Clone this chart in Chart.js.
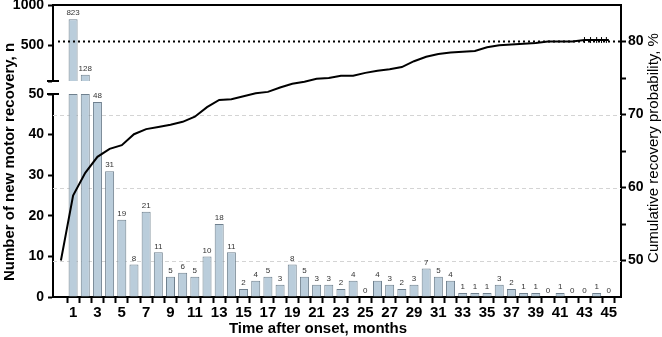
<!DOCTYPE html>
<html><head><meta charset="utf-8">
<script src="https://cdn.jsdelivr.net/npm/chart.js@4.4.1/dist/chart.umd.min.js"></script>
<style>html,body{margin:0;padding:0;background:#fff;}#wrap{width:662px;height:337px;position:relative;}canvas{display:block;}</style>
</head><body><div id="wrap"><canvas id="c" width="662" height="337"></canvas></div>
<script>
// ---- data ----
const months = [1,2,3,4,5,6,7,8,9,10,11,12,13,14,15,16,17,18,19,20,21,22,23,24,25,26,27,28,29,30,31,32,33,34,35,36,37,38,39,40,41,42,43,44,45];
const newRecoveries = [823,128,48,31,19,8,21,11,5,6,5,10,18,11,2,4,5,3,8,5,3,3,2,4,0,4,3,2,3,7,5,4,1,1,1,3,2,1,1,0,1,0,0,1,0];
const cumMonths = [0,1,2,3,4,5,6,7,8,9,10,11,12,13,14,15,16,17,18,19,20,21,22,23,24,25,26,27,28,29,30,31,32,33,34,35,36,37,38,39,40,41,42,43,44,45];
const cumProbability = [50.0,58.9,62.0,64.2,65.3,65.8,67.3,68.0,68.3,68.6,69.0,69.7,71.0,72.0,72.1,72.5,72.9,73.1,73.7,74.2,74.5,74.9,75.0,75.3,75.3,75.7,76.0,76.2,76.5,77.3,77.9,78.3,78.5,78.6,78.7,79.2,79.5,79.6,79.7,79.8,80.0,80.0,80.0,80.2,80.2,80.2];
const censorMonths = [43,43.5,44,44.4,44.8];
const censorValue = 80.2;
const lowTicks = [0,10,20,30,40,50];
const highTicks = [50,500,1000];
const rightTicks = [50,55,60,65,70,75,80];
const gridValues = [50,60,70];
const referenceLevel = 80;
const breakValue = 50;
const xTitle = 'Time after onset, months';
const yLeftTitle = 'Number of new motor recovery, n';
const yRightTitle = 'Cumulative recovery probability, %';

const FONT = "'Liberation Sans', Arial, sans-serif";
const BAR_FILL = '#bacddb';
const BAR_EDGE = '#6f808e';

const lowData = months.map((m, i) => ({x: m, y: Math.min(newRecoveries[i], breakValue)}));
const highData = months.map((m, i) => newRecoveries[i] > breakValue ? {x: m, y: [breakValue, newRecoveries[i]]} : null).filter(Boolean);
const lineData = cumMonths.map((m, i) => ({x: m, y: cumProbability[i]}));
const censorData = censorMonths.map(m => ({x: m, y: censorValue}));

const decor = {
  id: 'decor',
  beforeDatasetsDraw(chart) {
    const {ctx, chartArea: a, scales} = chart;
    ctx.save();
    ctx.strokeStyle = '#d4d4d4';
    ctx.lineWidth = 1;
    ctx.setLineDash([4, 3]);
    gridValues.forEach(v => {
      const y = Math.round(scales.y2.getPixelForValue(v)) + 0.5;
      ctx.beginPath(); ctx.moveTo(a.left, y); ctx.lineTo(a.right, y); ctx.stroke();
    });
    ctx.restore();
  },
  afterDatasetsDraw(chart) {
    const {ctx, chartArea: a, scales} = chart;
    ctx.save();
    const yr = scales.y2.getPixelForValue(referenceLevel);
    ctx.strokeStyle = '#000'; ctx.lineWidth = 2; ctx.setLineDash([2, 3]);
    ctx.beginPath(); ctx.moveTo(a.left + 5, yr); ctx.lineTo(a.right, yr); ctx.stroke();
    ctx.setLineDash([]);
    ctx.lineWidth = 2;
    ctx.beginPath(); ctx.moveTo(a.left - 1, a.top); ctx.lineTo(a.right + 1, a.top); ctx.stroke();
    const xl = scales.yLow.right;
    [scales.yHigh.getPixelForValue(breakValue), scales.yLow.getPixelForValue(breakValue)].forEach(y => {
      ctx.beginPath(); ctx.moveTo(xl - 6, y); ctx.lineTo(xl + 6, y); ctx.stroke();
    });
    ctx.fillStyle = '#333';
    ctx.font = '8px ' + FONT;
    ctx.textAlign = 'center';
    ctx.textBaseline = 'bottom';
    months.forEach((m, i) => {
      const v = newRecoveries[i];
      const x = scales.x.getPixelForValue(m);
      const y = v > breakValue ? scales.yHigh.getPixelForValue(v) : scales.yLow.getPixelForValue(v);
      ctx.fillText(String(v), x, y - 2);
    });
    ctx.restore();
  },
  afterDraw(chart) {
    const {ctx, chartArea: a} = chart;
    ctx.save();
    ctx.fillStyle = '#000';
    ctx.textAlign = 'center';
    ctx.textBaseline = 'middle';
    ctx.font = 'bold 15px ' + FONT;
    ctx.fillText(xTitle, a.left + (a.right - a.left) / 2 - 19, 329);
    ctx.save();
    ctx.translate(10, 162); ctx.rotate(-Math.PI / 2);
    ctx.fillText(yLeftTitle, 0, 0);
    ctx.restore();
    ctx.save();
    ctx.font = '15px ' + FONT;
    ctx.translate(654, 148); ctx.rotate(-Math.PI / 2);
    ctx.fillText(yRightTitle, 0, 0);
    ctx.restore();
    ctx.restore();
  }
};

const noPad = s => { s.paddingTop = 0; s.paddingBottom = 0; };
const tickFont = {family: FONT, size: 14, weight: 'bold'};
const leftAxisCommon = {
  type: 'linear', position: 'left', stack: 'left',
  grid: {display: true, drawOnChartArea: false, drawTicks: true, tickLength: 5, tickWidth: 2, tickColor: '#000'},
  border: {display: true, color: '#000', width: 2},
  ticks: {color: '#000', font: tickFont, padding: 4, autoSkip: false},
  afterFit: s => { s.width = 53; noPad(s); }
};

new Chart(document.getElementById('c'), {
  data: {
    datasets: [
      {type: 'line', data: lineData, yAxisID: 'y2', xAxisID: 'x', borderColor: '#000', borderWidth: 2, pointRadius: 0, tension: 0, order: 0},
      {type: 'scatter', data: censorData, yAxisID: 'y2', xAxisID: 'x', pointStyle: 'line', rotation: 90, radius: 3, borderColor: '#000', borderWidth: 1, order: 0},
      {type: 'bar', data: lowData, yAxisID: 'yLow', xAxisID: 'x', backgroundColor: BAR_FILL, borderColor: BAR_EDGE, borderWidth: 1, borderSkipped: 'start', grouped: false, barPercentage: 0.74, categoryPercentage: 1, order: 2},
      {type: 'bar', data: highData, yAxisID: 'yHigh', xAxisID: 'x', backgroundColor: BAR_FILL, borderColor: BAR_EDGE, borderWidth: 1, borderSkipped: 'start', grouped: false, barPercentage: 0.74, categoryPercentage: 1, order: 2}
    ]
  },
  options: {
    responsive: false, animation: false, devicePixelRatio: 1,
    layout: {padding: {top: 5, left: 0, right: 0, bottom: 0}},
    plugins: {legend: {display: false}, tooltip: {enabled: false}},
    scales: {
      x: {
        type: 'linear', min: -0.65, max: 46, offset: false,
        afterBuildTicks: s => { s.ticks = months.map(v => ({value: v})); },
        ticks: {autoSkip: false, maxRotation: 0, color: '#000', font: {family: FONT, size: 15, weight: 'bold'}, padding: 1,
          callback: v => (v % 2 === 1 ? String(v) : '')},
        grid: {display: true, drawOnChartArea: false, drawTicks: true, tickLength: 6, tickWidth: 2, tickColor: '#000'},
        border: {display: true, color: '#000', width: 2},
        afterFit: s => { s.height = 40; s.paddingLeft = 0; s.paddingRight = 0; }
      },
      yHigh: Object.assign({}, leftAxisCommon, {
        weight: 3, stackWeight: 76, min: breakValue, max: 1000,
        afterBuildTicks: s => { s.ticks = highTicks.map(v => ({value: v})); },
        ticks: Object.assign({}, leftAxisCommon.ticks, {callback: v => (v === breakValue ? '' : String(v))})
      }),
      yGap: {
        type: 'linear', position: 'left', stack: 'left', weight: 2, stackWeight: 13, min: 0, max: 1,
        grid: {display: false}, border: {display: false}, ticks: {display: false},
        afterFit: s => { s.width = 53; noPad(s); }
      },
      yLow: Object.assign({}, leftAxisCommon, {
        weight: 1, stackWeight: 203, min: 0, max: breakValue,
        afterBuildTicks: s => { s.ticks = lowTicks.map(v => ({value: v})); },
        ticks: Object.assign({}, leftAxisCommon.ticks, {callback: v => String(v)})
      }),
      y2: {
        type: 'linear', position: 'right', min: 45, max: 85,
        afterBuildTicks: s => { s.ticks = rightTicks.map(v => ({value: v})); },
        ticks: {autoSkip: false, color: '#000', font: tickFont, padding: 2, callback: v => (v % 10 === 0 ? String(v) : '')},
        grid: {display: true, drawOnChartArea: false, drawTicks: true, tickLength: 5, tickWidth: 2, tickColor: '#000'},
        border: {display: true, color: '#000', width: 2},
        afterFit: s => { s.width = 41; noPad(s); }
      }
    }
  },
  plugins: [decor]
});
</script>
</body></html>
